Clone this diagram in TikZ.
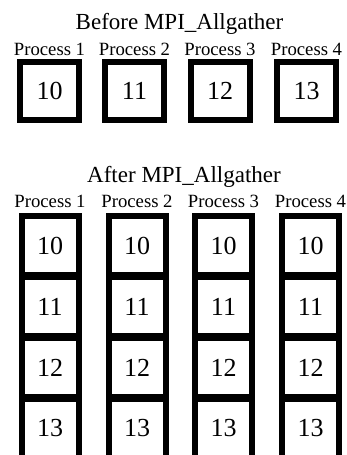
\documentclass[tikz,border=0pt]{standalone}
\usepackage{fontspec}
\setmainfont{Liberation Serif}
\begin{document}
\begin{tikzpicture}[x=1pt,y=1pt,
  cell/.style={draw, line width=6pt, inner sep=0pt, minimum width=59pt, minimum height=58pt, font=\fontsize{26}{26}\selectfont},
  colcell/.style={draw, line width=6pt, inner sep=0pt, minimum width=57pt, minimum height=59pt, font=\fontsize{26}{26}\selectfont},
  title/.style={anchor=base, inner sep=0pt, font=\fontsize{23}{23}\selectfont},
  plabel/.style={anchor=base, inner sep=0pt, font=\fontsize{18.7}{18.7}\selectfont}]
\useasboundingbox (0,0) rectangle (346,-455);
\clip (0,0) rectangle (346,-455);
% Before
\node[title] (t1) at (179.5,-29) {Before MPI\_Allgather};
\foreach \i/\x/\v in {1/49.5/10, 2/134.5/11, 3/220/12, 4/306.5/13} {
  \node[plabel] (bp\i) at (\x,-55) {Process \i};
  \node[cell] (b\i) at (\x,-91) {\v};
}
% After
\node[title] (t2) at (184,-182) {After MPI\_Allgather};
\foreach \i/\x in {1/50, 2/137, 3/223.5, 4/310.5} {
  \node[plabel] (ap\i) at (\x,-207) {Process \i};
  \foreach \j/\y/\v in {1/-245.5/10, 2/-306.5/11, 3/-367.5/12, 4/-428.5/13} {
    \node[colcell] (a\i\j) at (\x,\y) {\v};
  }
}
\end{tikzpicture}
\end{document}
